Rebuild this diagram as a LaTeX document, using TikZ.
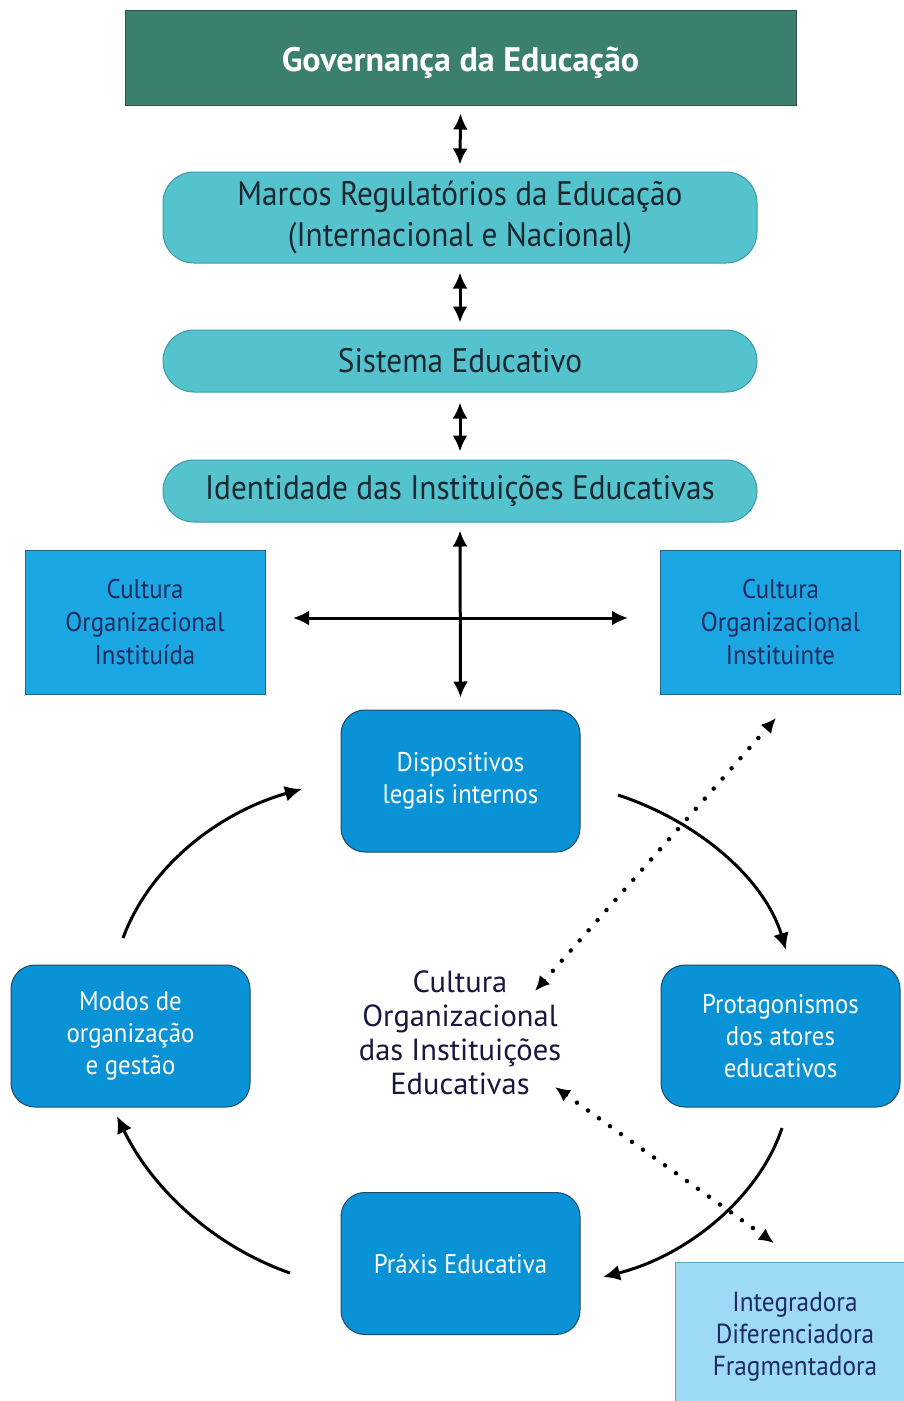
\documentclass[tikz,border=0pt]{standalone}
\usepackage{fontspec}
\setmainfont{PT Sans}
\newfontfamily\condfont[FakeStretch=0.92]{PT Sans}
\usetikzlibrary{arrows.meta}
\definecolor{govfill}{HTML}{3B7F6E}
\definecolor{govline}{HTML}{2F4F48}
\definecolor{pillfill}{HTML}{55C3CE}
\definecolor{pillline}{HTML}{3A9CA8}
\definecolor{culfill}{HTML}{1BA6E4}
\definecolor{culline}{HTML}{1F6590}
\definecolor{boxfill}{HTML}{0A92D6}
\definecolor{boxline}{HTML}{1C4A6A}
\definecolor{intfill}{HTML}{9CDAF6}
\definecolor{intline}{HTML}{5DA3C8}
\definecolor{navy}{HTML}{1E2B5C}
\definecolor{darknavy}{HTML}{17173F}
\definecolor{pilltext}{HTML}{1B2830}
\tikzset{
  govbox/.style={draw=govline, line width=1pt, fill=govfill, minimum width=671pt, minimum height=95pt, text=white, font=\fontsize{34}{38}\selectfont\bfseries},
  pill/.style={draw=pillline, line width=1pt, fill=pillfill, rounded corners=31pt, minimum width=594pt, text=pilltext, font=\condfont\fontsize{34}{41}\selectfont, align=center, inner sep=0pt},
  culbox/.style={draw=culline, line width=1pt, fill=culfill, minimum width=240pt, minimum height=144pt, text=navy, font=\condfont\fontsize{27}{33}\selectfont, align=center, inner sep=0pt},
  bluebox/.style={draw=boxline, line width=1pt, fill=boxfill, rounded corners=24pt, minimum width=239pt, minimum height=142pt, text=white, font=\condfont\fontsize{27}{32}\selectfont, align=center, inner sep=0pt},
  intbox/.style={draw=intline, line width=1pt, fill=intfill, minimum width=240pt, minimum height=150pt, text=navy, font=\condfont\fontsize{27.5}{32}\selectfont, align=center, inner sep=0pt},
  centertext/.style={text=darknavy, font=\fontsize{30.5}{34}\selectfont, align=center, inner sep=0pt},
  dbl/.style={line width=3pt, {Latex[length=16pt,width=15pt]}-{Latex[length=16pt,width=15pt]}},
  cyc/.style={line width=3pt, -{Latex[length=17pt,width=16pt]}},
  dotarrow/.style={line width=4.5pt, line cap=round, dash pattern=on 0pt off 13.5pt, {Latex[length=15pt,width=14pt]}-{Latex[length=15pt,width=14pt]}}
}
\begin{document}
\begin{tikzpicture}[x=1pt,y=-1pt]
\useasboundingbox (0,0) rectangle (904,1401);
\fill[white] (0,0) rectangle (904,1401);
% main column
\node[govbox] (gov) at (460.5,57.5) {\raisebox{-5pt}[\height][\depth]{Governança da Educação}};
\node[pill, minimum height=91pt] (marcos) at (460,217.5) {Marcos Regulatórios da Educação\\(Internacional e Nacional)};
\node[pill, minimum height=62pt] (sistema) at (460,361) {Sistema Educativo};
\node[pill, minimum height=62pt] (ident) at (460,491) {Identidade das Instituições Educativas};
% side boxes
\node[culbox] (inst) at (145,622) {Cultura\\Organizacional\\Instituída};
\node[culbox] (instte) at (780.5,622) {Cultura\\Organizacional\\Instituinte};
% cycle boxes
\node[bluebox] (disp) at (460.5,781) {Dispositivos\\legais internos};
\node[bluebox] (modos) at (130.5,1036) {Modos de\\organização\\e gestão};
\node[bluebox] (prot) at (780.5,1036) {Protagonismos\\dos atores\\educativos};
\node[bluebox] (praxis) at (460.5,1263.5) {Práxis Educativa};
\node[intbox] (integ) at (795,1337) {Integradora\\Diferenciadora\\Fragmentadora};
\node[centertext] (centro) at (460,1033) {Cultura\\Organizacional\\das Instituições\\Educativas};
% vertical arrows
\draw[dbl] ([yshift=-8pt]gov.south) -- ([yshift=7pt]marcos.north);
\draw[dbl] ([yshift=-9pt]marcos.south) -- ([yshift=7pt]sistema.north);
\draw[dbl] ([yshift=-10pt]sistema.south) -- ([yshift=8pt]ident.north);
\draw[dbl] ([yshift=-8pt]ident.south) -- ([yshift=12pt]disp.north);
% horizontal arrow
\coordinate (hl) at (293,618);
\coordinate (hr) at (628,618);
\draw[dbl] (hl) -- (hr);
% cycle connectors
\coordinate (c1s) at (618,795);
\coordinate (c1e) at (786,950);
\coordinate (c2s) at (782,1128);
\coordinate (c2e) at (603,1277);
\coordinate (c3s) at (290,1273);
\coordinate (c3e) at (117,1116);
\coordinate (c4s) at (123,938);
\coordinate (c4e) at (302,789);
\draw[cyc] (c1s) .. controls (700,822) and (765,880) .. (c1e);
\draw[cyc] (c2s) .. controls (760,1195) and (690,1255) .. (c2e);
\draw[cyc] (c3s) .. controls (210,1245) and (150,1185) .. (c3e);
\draw[cyc] (c4s) .. controls (150,865) and (220,812) .. (c4e);
% dotted arrows
\coordinate (d1a) at (776,718);
\coordinate (d1b) at (535,991);
\coordinate (d2a) at (555,1087);
\coordinate (d2b) at (774,1243);
\draw[dotarrow] (d1b) -- (d1a);
\draw[dotarrow] (d2a) -- (d2b);
\end{tikzpicture}
\end{document}
